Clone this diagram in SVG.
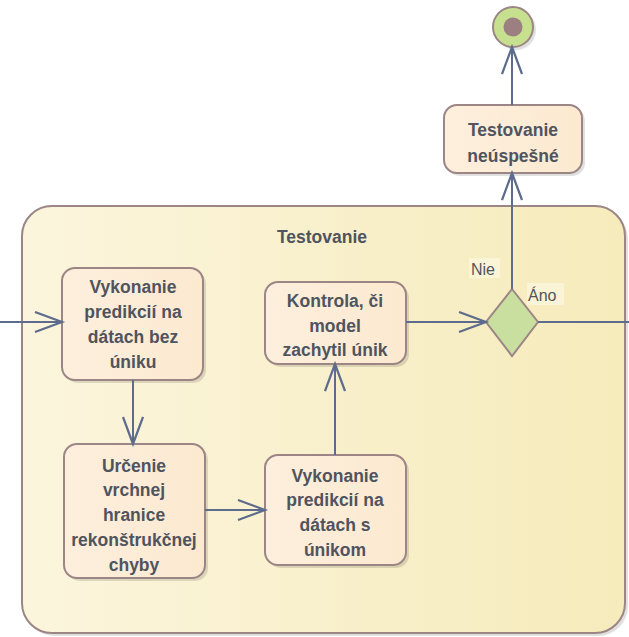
<svg xmlns="http://www.w3.org/2000/svg" width="629" height="637" viewBox="0 0 629 637">
  <style>
    .node { stroke: #9c8585; stroke-width: 2; fill: url(#nodeFill); }
    .lbl { font-family: "Liberation Sans", Arial, sans-serif; font-weight: bold; font-size: 17.5px; fill: #4f545e; text-anchor: middle; }
    .guard { font-family: "Liberation Sans", Arial, sans-serif; font-size: 16px; fill: #4f545e; }
    .flow { stroke: #5d6b8c; stroke-width: 2; fill: none; }
    .shadow { fill: #000; opacity: 0.12; }
  </style>
  <defs>
    <linearGradient id="nodeFill" x1="0" y1="0" x2="1" y2="0">
      <stop offset="0" stop-color="#fdefdd"/>
      <stop offset="1" stop-color="#fce9d0"/>
    </linearGradient>
    <linearGradient id="frameFill" x1="0" y1="0" x2="1" y2="0">
      <stop offset="0" stop-color="#fbf5dd"/>
      <stop offset="1" stop-color="#f6ebbb"/>
    </linearGradient>
    <marker id="open" markerUnits="userSpaceOnUse" markerWidth="32" markerHeight="24" refX="28" refY="11" orient="auto">
      <path d="M1,1 L28,11 L1,21" fill="none" stroke="#5d6b8c" stroke-width="2.2"/>
    </marker>
  </defs>

  <!-- activity frame -->
  <g id="testovanie">
    <rect x="25" y="209" width="603" height="427" rx="30" class="shadow"/>
    <rect x="22" y="206" width="603" height="427" rx="30" fill="url(#frameFill)" stroke="#9c8585" stroke-width="2"/>
    <text x="322" y="243" class="lbl">Testovanie</text>
  </g>

  <!-- final node -->
  <g id="final">
    <circle cx="516" cy="30" r="20" class="shadow"/>
    <circle cx="513" cy="27" r="20" fill="#c6e08f" stroke="#9c8585" stroke-width="2"/>
    <circle cx="513" cy="27" r="9.5" fill="#9c7f80"/>
  </g>

  <g id="neuspesne">
    <rect x="447" y="108" width="138" height="68" rx="13" class="shadow"/>
    <rect x="444" y="105" width="138" height="68" rx="13" class="node"/>
    <text x="513" y="136" class="lbl">Testovanie</text>
    <text x="513" y="162" class="lbl">neúspešné</text>
  </g>

  <g id="bez-uniku">
    <rect x="65" y="271" width="141" height="112" rx="13" class="shadow"/>
    <rect x="62" y="268" width="141" height="112" rx="13" class="node"/>
    <text x="133" y="293" class="lbl">Vykonanie</text>
    <text x="133" y="318" class="lbl">predikcií na</text>
    <text x="133" y="343" class="lbl">dátach bez</text>
    <text x="133" y="368" class="lbl">úniku</text>
  </g>

  <g id="hranica">
    <rect x="67" y="447" width="141" height="134" rx="13" class="shadow"/>
    <rect x="64" y="444" width="141" height="134" rx="13" class="node"/>
    <text x="134" y="472" class="lbl">Určenie</text>
    <text x="134" y="496" class="lbl">vrchnej</text>
    <text x="134" y="521" class="lbl">hranice</text>
    <text x="134" y="546" class="lbl">rekonštrukčnej</text>
    <text x="134" y="571" class="lbl">chyby</text>
  </g>

  <g id="kontrola">
    <rect x="268" y="285" width="141" height="82" rx="13" class="shadow"/>
    <rect x="265" y="282" width="141" height="82" rx="13" class="node"/>
    <text x="335" y="307" class="lbl">Kontrola, či</text>
    <text x="335" y="332" class="lbl">model</text>
    <text x="335" y="356" class="lbl">zachytil únik</text>
  </g>

  <g id="s-unikom">
    <rect x="268" y="458" width="141" height="110" rx="13" class="shadow"/>
    <rect x="265" y="455" width="141" height="110" rx="13" class="node"/>
    <text x="335" y="482" class="lbl">Vykonanie</text>
    <text x="335" y="506" class="lbl">predikcií na</text>
    <text x="335" y="531" class="lbl">dátach s</text>
    <text x="335" y="556" class="lbl">únikom</text>
  </g>

  <g id="decision">
    <polygon points="512,289 538,322 512,356 486,322" fill="#c9df9f" stroke="#9c8585" stroke-width="2"/>
  </g>

  <!-- control flows -->
  <g id="flows">
    <line x1="0" y1="322" x2="62" y2="322" class="flow" marker-end="url(#open)"/>
    <line x1="133" y1="380" x2="133" y2="444" class="flow" marker-end="url(#open)"/>
    <line x1="205" y1="510" x2="265" y2="510" class="flow" marker-end="url(#open)"/>
    <line x1="335" y1="455" x2="335" y2="364" class="flow" marker-end="url(#open)"/>
    <line x1="406" y1="322" x2="486" y2="322" class="flow" marker-end="url(#open)"/>
    <line x1="512" y1="289" x2="512" y2="173" class="flow" marker-end="url(#open)"/>
    <line x1="538" y1="322" x2="629" y2="322" class="flow"/>
    <line x1="512" y1="105" x2="512" y2="47" class="flow" marker-end="url(#open)"/>
    <rect x="469" y="258" width="31" height="20" fill="#fcf7e0" opacity="0.7"/>
    <text x="471" y="275" class="guard">Nie</text>
    <rect x="527" y="283" width="37" height="22" fill="#fcf7e0" opacity="0.7"/>
    <text x="528" y="301" class="guard">Áno</text>
  </g>
</svg>
